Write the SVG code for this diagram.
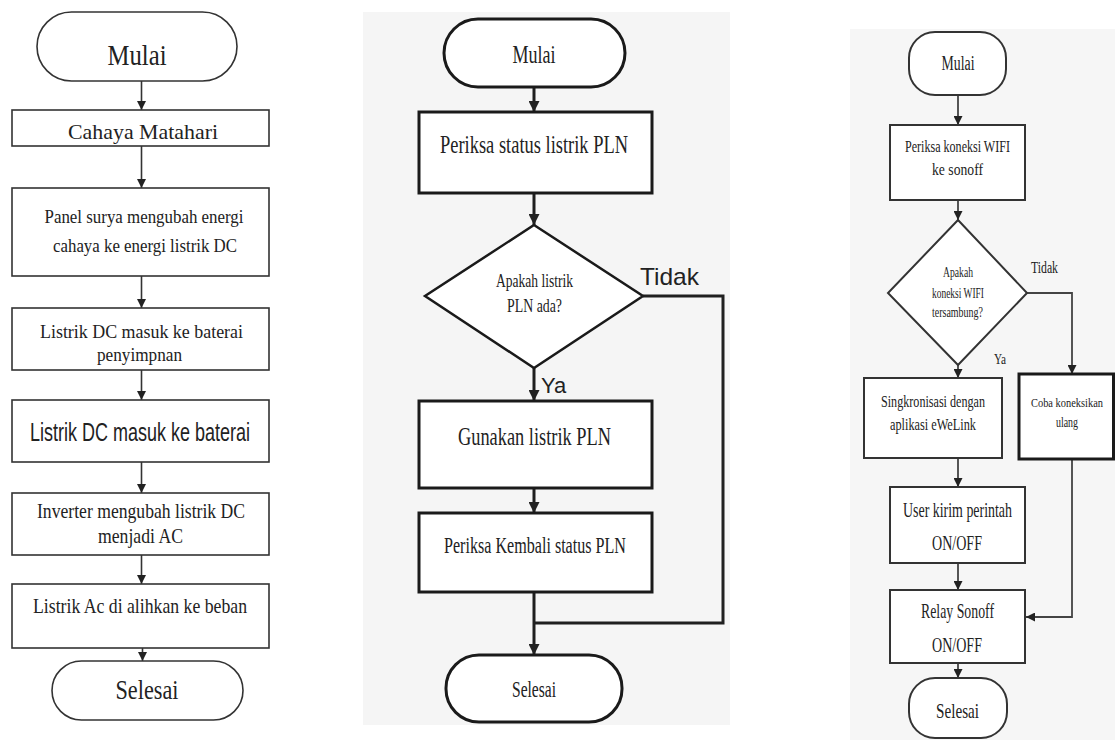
<svg xmlns="http://www.w3.org/2000/svg" width="1115" height="740" viewBox="0 0 1115 740">
<style>
.t{font-family:"Liberation Serif","Times New Roman",serif;fill:#222;text-anchor:middle}
.s{font-family:"Liberation Sans",Arial,sans-serif;fill:#222}
.bl{fill:#fff;stroke:#333;stroke-width:1.6}
.bm{fill:#fff;stroke:#1a1a1a;stroke-width:3}
.br{fill:#fff;stroke:#333;stroke-width:2}
.cl{fill:none;stroke:#333;stroke-width:1.6}
.cm{fill:none;stroke:#1f1f1f;stroke-width:3}
.cr{fill:none;stroke:#444;stroke-width:1.8}
</style>
<defs>
<marker id="ah" viewBox="0 0 10 10" refX="10" refY="5" markerWidth="9" markerHeight="9" markerUnits="userSpaceOnUse" orient="auto"><path d="M0,0 L10,5 L0,10 z" fill="#222"/></marker>
<marker id="ahm" viewBox="0 0 10 10" refX="10" refY="5" markerWidth="11" markerHeight="11" markerUnits="userSpaceOnUse" orient="auto"><path d="M0,0 L10,5 L0,10 z" fill="#222"/></marker>
</defs>
<rect width="1115" height="740" fill="#fff"/>
<rect x="363" y="12" width="367" height="713" fill="#f5f5f5"/>
<rect x="850" y="29" width="265" height="711" fill="#f6f6f6"/>

<g id="connectors">
<line class="cl" x1="141.5" y1="81" x2="141.5" y2="110" marker-end="url(#ah)"/>
<line class="cl" x1="141.5" y1="146" x2="141.5" y2="188" marker-end="url(#ah)"/>
<line class="cl" x1="141.5" y1="276" x2="141.5" y2="308" marker-end="url(#ah)"/>
<line class="cl" x1="141.5" y1="370" x2="141.5" y2="400" marker-end="url(#ah)"/>
<line class="cl" x1="141.5" y1="462" x2="141.5" y2="493" marker-end="url(#ah)"/>
<line class="cl" x1="141.5" y1="555" x2="141.5" y2="584" marker-end="url(#ah)"/>
<line class="cl" x1="142.5" y1="640" x2="142.5" y2="661" marker-end="url(#ah)"/>

<line class="cm" x1="534" y1="87" x2="534" y2="112" marker-end="url(#ahm)"/>
<line class="cm" x1="534" y1="193" x2="534" y2="225" marker-end="url(#ahm)"/>
<line class="cm" x1="534" y1="368" x2="534" y2="401" marker-end="url(#ahm)"/>
<line class="cm" x1="534" y1="488" x2="534" y2="513" marker-end="url(#ahm)"/>
<line class="cm" x1="534" y1="592" x2="534" y2="655" marker-end="url(#ahm)"/>
<path class="cm" d="M643,296 H723 V623 H534"/>

<line class="cr" x1="958" y1="95" x2="958" y2="125" marker-end="url(#ah)"/>
<line class="cr" x1="958" y1="200" x2="958" y2="220" marker-end="url(#ah)"/>
<line class="cr" x1="958" y1="365" x2="958" y2="378" marker-end="url(#ah)"/>
<line class="cr" x1="958" y1="458" x2="958" y2="487" marker-end="url(#ah)"/>
<line class="cr" x1="958" y1="563" x2="958" y2="590" marker-end="url(#ah)"/>
<line class="cr" x1="958" y1="663" x2="958" y2="678" marker-end="url(#ah)"/>
<path class="cr" d="M1027,293 H1072 V374" marker-end="url(#ah)"/>
<path class="cr" d="M1072,459 V617 H1026" marker-end="url(#ah)"/>
</g>

<g id="l-mulai"><rect class="bl" x="37" y="12" width="200" height="69" rx="34.5"/><text class="t" x="137" y="65" font-size="30" textLength="59" lengthAdjust="spacingAndGlyphs">Mulai</text></g>
<g id="l-cahaya"><rect class="bl" x="12" y="110" width="257" height="36"/><text class="t" x="143" y="139" font-size="22" textLength="150" lengthAdjust="spacingAndGlyphs">Cahaya Matahari</text></g>
<g id="l-panel"><rect class="bl" x="12" y="188" width="257" height="88"/><text class="t" x="144" y="223" font-size="19" textLength="199" lengthAdjust="spacingAndGlyphs">Panel surya mengubah energi</text><text class="t" x="145" y="252" font-size="19" textLength="184" lengthAdjust="spacingAndGlyphs">cahaya ke energi listrik DC</text></g>
<g id="l-simpan"><rect class="bl" x="12" y="308" width="257" height="62"/><text class="t" x="141.5" y="338" font-size="19" textLength="203" lengthAdjust="spacingAndGlyphs">Listrik DC masuk ke baterai</text><text class="t" x="139.5" y="361" font-size="19" textLength="85" lengthAdjust="spacingAndGlyphs">penyimpnan</text></g>
<g id="l-baterai"><rect class="bl" x="12" y="400" width="257" height="62"/><text class="s" x="140" y="441" font-size="25" text-anchor="middle" textLength="220" lengthAdjust="spacingAndGlyphs">Listrik DC masuk ke baterai</text></g>
<g id="l-inverter"><rect class="bl" x="12" y="493" width="257" height="62"/><text class="t" x="141" y="518" font-size="22" textLength="208" lengthAdjust="spacingAndGlyphs">Inverter mengubah listrik DC</text><text class="t" x="140.5" y="543" font-size="22" textLength="85" lengthAdjust="spacingAndGlyphs">menjadi AC</text></g>
<g id="l-beban"><rect class="bl" x="12" y="584" width="257" height="64"/><text class="t" x="140" y="613" font-size="22" textLength="214" lengthAdjust="spacingAndGlyphs">Listrik Ac di alihkan ke beban</text></g>
<g id="l-selesai"><rect class="bl" x="52" y="661" width="191" height="59" rx="29.5"/><text class="t" x="147" y="699" font-size="27" textLength="63" lengthAdjust="spacingAndGlyphs">Selesai</text></g>

<g id="m-mulai"><rect class="bm" x="444" y="19" width="181" height="68" rx="34"/><text class="t" x="534" y="63" font-size="26" textLength="43" lengthAdjust="spacingAndGlyphs">Mulai</text></g>
<g id="m-periksa"><rect class="bm" x="419" y="112" width="233" height="81"/><text class="t" x="534" y="153" font-size="26" textLength="188" lengthAdjust="spacingAndGlyphs">Periksa status listrik PLN</text></g>
<g id="m-decision"><polygon points="534,225 643,296 534,368 425,296" fill="#fff" stroke="#1a1a1a" stroke-width="2.5"/><text class="t" x="534.5" y="287" font-size="19" textLength="77" lengthAdjust="spacingAndGlyphs">Apakah listrik</text><text class="t" x="534.5" y="312" font-size="19" textLength="55" lengthAdjust="spacingAndGlyphs">PLN ada?</text></g>
<g id="m-labels"><text class="s" x="669.5" y="285" font-size="24" text-anchor="middle" textLength="59" lengthAdjust="spacingAndGlyphs">Tidak</text><text class="s" x="541" y="393" font-size="22">Ya</text></g>
<g id="m-gunakan"><rect class="bm" x="419" y="401" width="233" height="87"/><text class="t" x="534.5" y="445" font-size="26" textLength="153" lengthAdjust="spacingAndGlyphs">Gunakan listrik PLN</text></g>
<g id="m-kembali"><rect class="bm" x="419" y="513" width="233" height="79"/><text class="t" x="535" y="553" font-size="23" textLength="182" lengthAdjust="spacingAndGlyphs">Periksa Kembali status PLN</text></g>
<g id="m-selesai"><rect class="bm" x="446" y="655" width="176" height="67" rx="33"/><text class="t" x="534" y="697" font-size="24" textLength="44" lengthAdjust="spacingAndGlyphs">Selesai</text></g>

<g id="r-mulai"><rect class="br" x="909" y="32" width="97" height="63" rx="26"/><text class="t" x="958" y="70" font-size="20" textLength="33" lengthAdjust="spacingAndGlyphs">Mulai</text></g>
<g id="r-periksa"><rect class="br" x="890" y="125" width="135" height="75"/><text class="t" x="957.5" y="152" font-size="17" textLength="105" lengthAdjust="spacingAndGlyphs">Periksa koneksi WIFI</text><text class="t" x="957.5" y="175" font-size="17" textLength="51" lengthAdjust="spacingAndGlyphs">ke sonoff</text></g>
<g id="r-decision"><polygon points="958,220 1027,293 958,365 888,293" fill="#fff" stroke="#333" stroke-width="2"/><text class="t" x="958" y="277" font-size="14" textLength="30" lengthAdjust="spacingAndGlyphs">Apakah</text><text class="t" x="958" y="298" font-size="14" textLength="52" lengthAdjust="spacingAndGlyphs">koneksi WIFI</text><text class="t" x="957.5" y="317" font-size="14" textLength="51" lengthAdjust="spacingAndGlyphs">tersambung?</text></g>
<g id="r-labels"><text class="t" x="1044.5" y="273" font-size="17" textLength="27" lengthAdjust="spacingAndGlyphs">Tidak</text><text class="t" x="1000" y="364" font-size="14" textLength="12" lengthAdjust="spacingAndGlyphs">Ya</text></g>
<g id="r-sinkron"><rect class="br" x="864" y="378" width="138" height="80"/><text class="t" x="933" y="407" font-size="17" textLength="104" lengthAdjust="spacingAndGlyphs">Singkronisasi dengan</text><text class="t" x="933" y="430" font-size="17" textLength="86" lengthAdjust="spacingAndGlyphs">aplikasi eWeLink</text></g>
<g id="r-coba"><rect x="1019" y="374" width="94.5" height="85" fill="#fff" stroke="#1a1a1a" stroke-width="3"/><text class="t" x="1067" y="407" font-size="12" textLength="72" lengthAdjust="spacingAndGlyphs">Coba koneksikan</text><text class="t" x="1067" y="427" font-size="14" textLength="22" lengthAdjust="spacingAndGlyphs">ulang</text></g>
<g id="r-user"><rect class="br" x="890" y="487" width="135" height="76"/><text class="t" x="957.5" y="517" font-size="21" textLength="109" lengthAdjust="spacingAndGlyphs">User kirim perintah</text><text class="t" x="957" y="550" font-size="21" textLength="50" lengthAdjust="spacingAndGlyphs">ON/OFF</text></g>
<g id="r-relay"><rect class="br" x="890" y="590" width="135" height="73"/><text class="t" x="957.5" y="618" font-size="21" textLength="73" lengthAdjust="spacingAndGlyphs">Relay Sonoff</text><text class="t" x="957" y="652" font-size="21" textLength="50" lengthAdjust="spacingAndGlyphs">ON/OFF</text></g>
<g id="r-selesai"><rect class="br" x="909" y="678" width="98" height="60" rx="26"/><text class="t" x="957.5" y="718" font-size="21" textLength="43" lengthAdjust="spacingAndGlyphs">Selesai</text></g>
</svg>
